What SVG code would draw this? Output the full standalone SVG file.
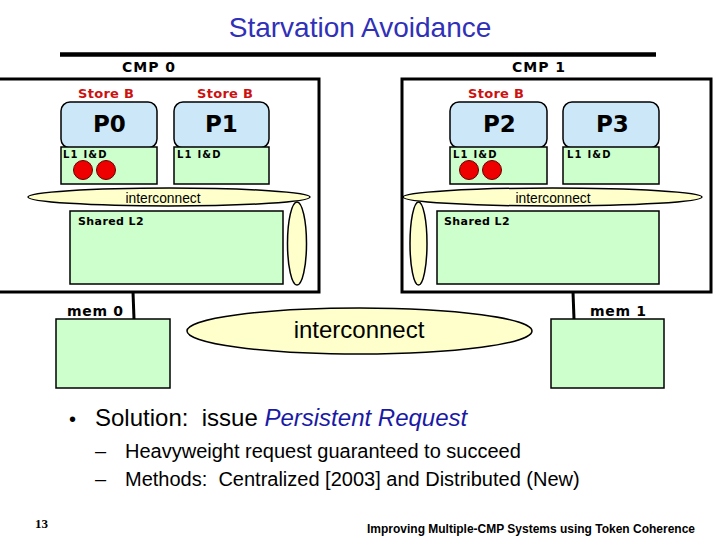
<svg xmlns="http://www.w3.org/2000/svg" width="720" height="540" viewBox="0 0 720 540">
<style>
.cmp{fill:#ffffff;stroke:#000;stroke-width:3}
.proc{fill:#cce8f8;stroke:#000;stroke-width:1.5}
.cache{fill:#ccffcc;stroke:#000;stroke-width:1.5}
.bus{fill:#ffffcc;stroke:#000;stroke-width:1.5}
.dot{fill:#ee0000;stroke:#600;stroke-width:1}
.lbl{font-family:"DejaVu Sans",Verdana,sans-serif;font-weight:bold;fill:#000}
.store{font-family:"DejaVu Sans",Verdana,sans-serif;font-weight:bold;font-size:13px;letter-spacing:0.3px;fill:#cc1111}
.pn{font-family:"DejaVu Sans",Verdana,sans-serif;font-weight:bold;font-size:23px;fill:#000}
.l1{font-family:"DejaVu Sans",Verdana,sans-serif;font-weight:bold;font-size:10px;letter-spacing:1.2px;fill:#000}
.l2{font-family:"DejaVu Sans",Verdana,sans-serif;font-weight:bold;font-size:11px;letter-spacing:0.4px;fill:#000}
.ic{font-family:"Liberation Sans",Arial,sans-serif;font-size:13.8px;fill:#000;text-anchor:middle}
.body{font-family:"Liberation Sans",Arial,sans-serif;fill:#000}
.conn{stroke:#000;stroke-width:3;fill:none}
</style>
<rect width="720" height="540" fill="#ffffff"/>
<text x="360" y="37" text-anchor="middle" font-family="Liberation Sans, Arial, sans-serif" font-size="28" fill="#3030b8">Starvation Avoidance</text>
<line x1="60" y1="54.5" x2="656" y2="54.5" stroke="#000" stroke-width="4.5"/>

<g id="cmp0">
<rect class="cmp" x="-10" y="79" width="329" height="213"/>
<text class="lbl" x="122" y="72" font-size="14" letter-spacing="1">CMP 0</text>
</g>
<g id="cmp1">
<rect class="cmp" x="402" y="79" width="309" height="213"/>
<text class="lbl" x="512" y="72" font-size="14" letter-spacing="1">CMP 1</text>
</g>

<g id="p0">
<text class="store" x="78" y="98">Store B</text>
<rect class="proc" x="61" y="102" width="96" height="46" rx="9"/>
<text class="pn" x="93" y="132">P0</text>
<rect class="cache" x="61" y="147" width="96" height="37"/>
<text class="l1" x="63" y="158">L1 I&amp;D</text>
<circle class="dot" cx="83" cy="170" r="9.5"/>
<circle class="dot" cx="106" cy="170" r="9.5"/>
</g>
<g id="p1">
<text class="store" x="197" y="98">Store B</text>
<rect class="proc" x="174" y="102" width="95" height="46" rx="9"/>
<text class="pn" x="205" y="132">P1</text>
<rect class="cache" x="174" y="147" width="95" height="37"/>
<text class="l1" x="177" y="158">L1 I&amp;D</text>
</g>
<g id="p2">
<text class="store" x="468" y="98">Store B</text>
<rect class="proc" x="450" y="102" width="97" height="46" rx="9"/>
<text class="pn" x="483" y="132">P2</text>
<rect class="cache" x="450" y="147" width="97" height="37"/>
<text class="l1" x="453" y="158">L1 I&amp;D</text>
<circle class="dot" cx="469" cy="170" r="9.5"/>
<circle class="dot" cx="492" cy="170" r="9.5"/>
</g>
<g id="p3">
<rect class="proc" x="563" y="102" width="96" height="46" rx="9"/>
<text class="pn" x="596" y="132">P3</text>
<rect class="cache" x="563" y="147" width="96" height="37"/>
<text class="l1" x="567" y="158">L1 I&amp;D</text>
</g>

<g id="interconnect0">
<ellipse class="bus" cx="169" cy="197" rx="141" ry="9"/>
<text class="ic" x="163" y="203">interconnect</text>
</g>
<g id="interconnect1">
<ellipse class="bus" cx="552.5" cy="197" rx="149.5" ry="9"/>
<text class="ic" x="553" y="203">interconnect</text>
</g>

<g id="l2_0">
<rect class="cache" x="70" y="211" width="213" height="73"/>
<text class="l2" x="78" y="225">Shared L2</text>
</g>
<g id="l2_1">
<rect class="cache" x="437" y="211" width="222" height="73"/>
<text class="l2" x="444" y="225">Shared L2</text>
</g>

<g id="vbus0"><ellipse class="bus" cx="297" cy="243.5" rx="9.5" ry="41.5"/></g>
<g id="vbus1"><ellipse class="bus" cx="418.5" cy="243.5" rx="8.5" ry="41.5"/></g>

<g id="mem0">
<text class="lbl" x="67" y="316" font-size="14" letter-spacing="0.7">mem 0</text>
<rect class="cache" x="56" y="319" width="114" height="69"/>
</g>
<g id="mem1">
<text class="lbl" x="590" y="316" font-size="14" letter-spacing="0.7">mem 1</text>
<rect class="cache" x="551" y="319" width="113" height="69"/>
</g>

<g id="interconnect_global">
<ellipse class="bus" cx="359.5" cy="331" rx="172.5" ry="23"/>
<text x="359" y="338" text-anchor="middle" font-family="Liberation Sans, Arial, sans-serif" font-size="24" fill="#000">interconnect</text>
</g>

<g id="connectors">
<line class="conn" x1="133" y1="292" x2="134" y2="319"/>
<line class="conn" x1="573" y1="292" x2="574" y2="319"/>
</g>

<g id="text">
<text class="body" x="69" y="426" font-size="20">•</text>
<text class="body" x="95" y="426" font-size="24" xml:space="preserve">Solution:  issue <tspan fill="#1a1aa6" font-style="italic">Persistent Request</tspan></text>
<text class="body" x="95" y="458" font-size="20">–</text>
<text class="body" x="125" y="458" font-size="20">Heavyweight request guaranteed to succeed</text>
<text class="body" x="95" y="486" font-size="20">–</text>
<text class="body" x="125" y="486" font-size="20" xml:space="preserve">Methods:  Centralized [2003] and Distributed (New)</text>
<text x="35" y="528" font-family="Liberation Serif, Times New Roman, serif" font-size="13" font-weight="bold" fill="#000">13</text>
<text x="367" y="533" font-family="Liberation Sans, Arial, sans-serif" font-weight="bold" font-size="12" textLength="328" lengthAdjust="spacingAndGlyphs" fill="#000">Improving Multiple-CMP Systems using Token Coherence</text>
</g>
</svg>
